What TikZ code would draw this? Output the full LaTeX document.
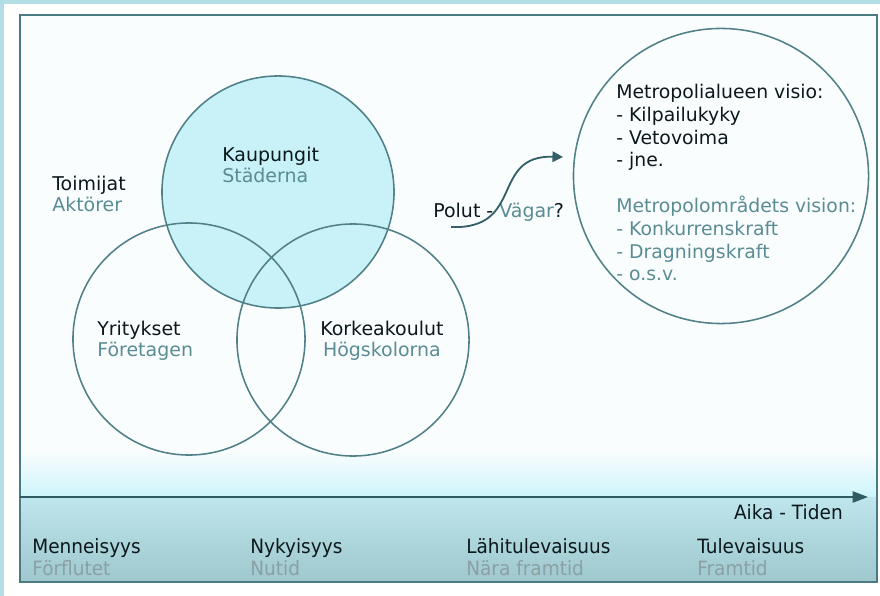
\documentclass[tikz,border=0pt]{standalone}
\usepackage{fontspec}
\setmainfont{DejaVu Sans}
\newfontfamily\narrowfont[FakeStretch=0.94]{DejaVu Sans}
\definecolor{frame}{RGB}{74,122,130}
\definecolor{outline}{RGB}{80,128,136}
\definecolor{ink}{RGB}{12,24,28}
\definecolor{swedish}{RGB}{90,140,148}
\definecolor{faded}{RGB}{138,160,165}
\definecolor{citycyan}{RGB}{200,242,248}
\definecolor{edgecyan}{RGB}{180,222,229}
\definecolor{paper}{RGB}{250,253,254}
\definecolor{haze}{RGB}{205,244,250}
\definecolor{bandtop}{RGB}{190,230,236}
\definecolor{bandbottom}{RGB}{158,200,206}
\definecolor{timeline}{RGB}{47,92,99}
\usetikzlibrary{arrows.meta, positioning}
\tikzset{
    venn/.style={circle, draw=outline, line width=1.1pt, minimum size=5.8cm, inner sep=0pt},
    actor/.style={anchor=base west, align=left, inner sep=0pt, text=ink, font=\fontsize{13.5}{15.6}\selectfont},
    era/.style={anchor=base west, align=left, inner sep=0pt, text=ink, font=\narrowfont\fontsize{14}{15.6}\selectfont},
    pathway/.style={draw=timeline!85!outline, line width=1.3pt, -{Triangle[length=7.5pt,width=7.5pt]}},
    timearrow/.style={draw=timeline, line width=1.3pt, -{Triangle[length=11pt,width=8pt]}}
}

\begin{document}
\begin{tikzpicture}[x=0.025cm, y=-0.025cm]
    \useasboundingbox (0,0) rectangle (880,596);
    % Background and frame
    \fill[edgecyan] (0,0) rectangle (880,596);
    \fill[white] (4,4) rectangle (880,596);
    \fill[paper] (20,15) rectangle (877,582);
    \shade[top color=paper, bottom color=haze] (20,450) rectangle (877,497);
    \shade[top color=bandtop, bottom color=bandbottom] (20,497) rectangle (877,582);
    \draw[frame, line width=1.3pt] (20,15) rectangle (877,582);

    % Actors
    \node[venn, fill=citycyan] (kaupungit) at (278,192) {};
    \node[venn] (yritykset) at (189,339) {};
    \node[venn] (korkeakoulut) at (353,340) {};

    % (base = baseline of the last line)
    \node[actor] (toimijat) at (52,212) {Toimijat\\\textcolor{swedish}{Aktörer}};
    \node[actor] (kaupungitlabel) at (222,183) {Kaupungit\\\textcolor{swedish}{Städerna}};
    \node[actor] (yrityksetlabel) at (97,357) {Yritykset\\\textcolor{swedish}{Företagen}};
    \node[actor, align=center] (korkeakoulutlabel) at (320,357) {Korkeakoulut\\\textcolor{swedish}{Högskolorna}};

    % Vision
    \node[venn, minimum size=7.375cm] (visio) at (721,176) {};
    \node[actor, font=\fontsize{13.4}{16.3}\selectfont] (visiofi) at (616,167)
        {Metropolialueen visio:\\- Kilpailukyky\\- Vetovoima\\- jne.};
    \node[actor, text=swedish, font=\fontsize{13.4}{16.3}\selectfont] (visiosv) at (616,281)
        {Metropolområdets vision:\\- Konkurrenskraft\\- Dragningskraft\\- o.s.v.};

    % Paths
    \node[actor] (polut) at (433,218) {Polut - \textcolor{swedish}{Vägar}?};
    \coordinate (pathstart) at (451,227);
    \coordinate (pathend) at (563,157);
    \draw[pathway] (pathstart) .. controls (525,230) and (490,155) .. (pathend);

    % Time axis
    \coordinate (timestart) at (20,497);
    \coordinate (timeend) at (868,497);
    \draw[timearrow] (timestart) -- (timeend);
    \node[era, anchor=base east] (aika) at (843,519) {Aika - Tiden};

    \node[era] (menneisyys) at (32,575) {Menneisyys\\\textcolor{faded}{Förflutet}};
    \node[era] (nykyisyys) at (250,575) {Nykyisyys\\\textcolor{faded}{Nutid}};
    \node[era] (lahitulevaisuus) at (466,575) {Lähitulevaisuus\\\textcolor{faded}{Nära framtid}};
    \node[era] (tulevaisuus) at (697,575) {Tulevaisuus\\\textcolor{faded}{Framtid}};
\end{tikzpicture}
\end{document}
